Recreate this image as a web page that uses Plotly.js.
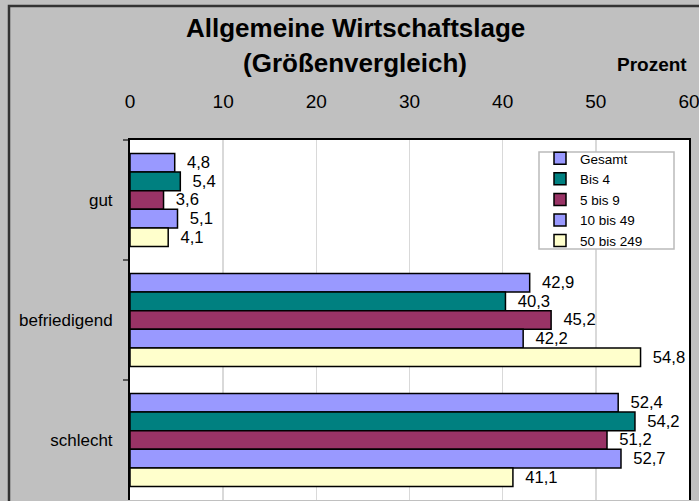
<!DOCTYPE html>
<html>
<head>
<meta charset="utf-8">
<script src="https://cdn.plot.ly/plotly-3.0.1.min.js"></script>
<style>html,body{margin:0;padding:0;background:#C0C0C0;}#chart{width:699px;height:501px;}</style>
</head>
<body>
<div id="chart"></div>
<script>
const categories = ["gut", "befriedigend", "schlecht"];
const seriesNames = ["Gesamt", "Bis 4", "5 bis 9", "10 bis 49", "50 bis 249"];
const gesamt = [4.8, 42.9, 52.4];
const bis4 = [5.4, 40.3, 54.2];
const bis5_9 = [3.6, 45.2, 51.2];
const bis10_49 = [5.1, 42.2, 52.7];
const bis50_249 = [4.1, 54.8, 41.1];
const xTicks = [0, 10, 20, 30, 40, 50, 60];
const colors = ["#9999FF", "#008080", "#993366", "#9999FF", "#FFFFCC"];

const allSeries = [gesamt, bis4, bis5_9, bis10_49, bis50_249];
const fmt = v => '\u00a0\u00a0' + v.toFixed(1).replace('.', ',');

const traces = allSeries.map((vals, i) => ({
  type: 'bar',
  orientation: 'h',
  name: seriesNames[i],
  y: categories,
  x: vals,
  text: vals.map(fmt),
  textposition: 'outside',
  cliponaxis: false,
  textfont: {family: 'Liberation Sans, Arial, sans-serif', size: 17, color: '#000'},
  marker: {color: colors[i], line: {color: '#000', width: 1.5}},
  hoverinfo: 'none'
}));

const px = x => (x - 130) / 559;
const py = y => (500 - y) / 360;

const layout = {
  width: 699, height: 501,
  margin: {l: 130, r: 10, t: 140, b: 1, pad: 0},
  paper_bgcolor: '#C0C0C0',
  plot_bgcolor: '#FFFFFF',
  font: {family: 'Liberation Sans, Arial, sans-serif', color: '#000'},
  barmode: 'group',
  bargap: 0.225,
  bargroupgap: 0,
  showlegend: true,
  legend: {
    x: px(540), y: py(143), xanchor: 'left', yanchor: 'top',
    bgcolor: 'rgba(0,0,0,0)', borderwidth: 0,
    font: {size: 13.5, color: '#000'},
    traceorder: 'normal'
  },
  xaxis: {
    side: 'top',
    range: [0, 60],
    tickvals: xTicks,
    ticktext: xTicks.map(String),
    showgrid: true, gridcolor: '#D9D9D9', gridwidth: 1.5,
    zeroline: false,
    showline: true, linecolor: '#000', linewidth: 2,
    ticks: '',
    ticklabelstandoff: 22,
    ticklabeloverflow: 'allow',
    tickfont: {size: 19, color: '#000'},
    fixedrange: true
  },
  yaxis: {
    type: 'category',
    autorange: 'reversed',
    tickson: 'boundaries',
    ticks: 'outside', ticklen: 5, tickcolor: '#555', tickwidth: 1.5,
    showline: true, linecolor: '#000', linewidth: 2, mirror: true,
    showgrid: false,
    tickfont: {size: 17, color: '#000'},
    ticklabelstandoff: 12,
    fixedrange: true
  },
  annotations: [
    {text: '<b>Allgemeine Wirtschaftslage</b>', xref: 'paper', yref: 'paper',
     x: px(355), y: py(28), xanchor: 'center', yanchor: 'middle',
     showarrow: false, font: {size: 26, color: '#000'}},
    {text: '<b>(Größenvergleich)</b>', xref: 'paper', yref: 'paper',
     x: px(355), y: py(63), xanchor: 'center', yanchor: 'middle',
     showarrow: false, font: {size: 26, color: '#000'}},
    {text: '<b>Prozent</b>', xref: 'paper', yref: 'paper',
     x: px(652), y: py(64), xanchor: 'center', yanchor: 'middle',
     showarrow: false, font: {size: 19, color: '#000'}}
  ],
  shapes: [
    {type: 'rect', xref: 'paper', yref: 'paper',
     x0: px(539), x1: px(674), y0: py(249), y1: py(152),
     fillcolor: '#FFFFFF', line: {color: '#BBBBBB', width: 1.5}, layer: 'above'},
    {type: 'path', xref: 'paper', yref: 'paper',
     path: 'M ' + px(9) + ' -0.1 L ' + px(9) + ' ' + py(6) + ' L 1.05 ' + py(6),
     line: {color: '#333333', width: 2.5}, layer: 'above'}
  ]
};

Plotly.newPlot('chart', traces, layout, {displayModeBar: false, staticPlot: true});
</script>
</body>
</html>
